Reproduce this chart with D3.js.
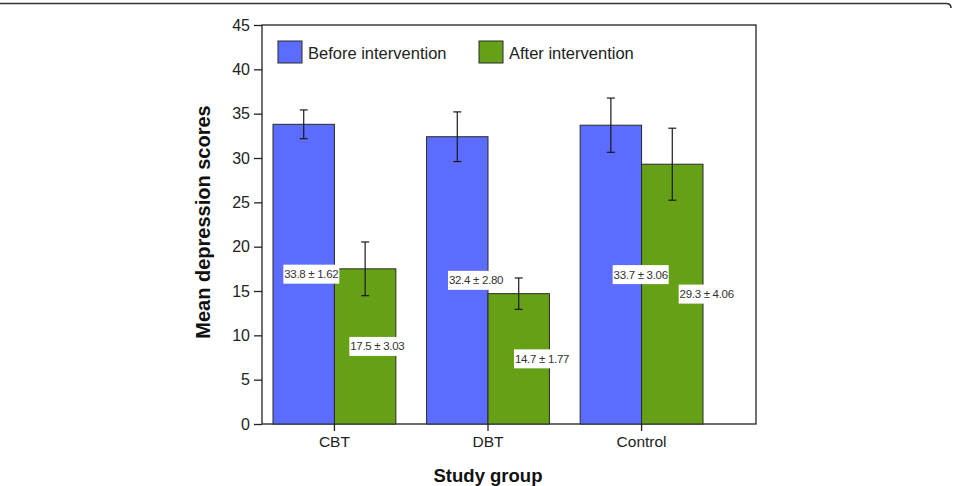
<!DOCTYPE html>
<html>
<head>
<meta charset="utf-8">
<script src="https://cdn.jsdelivr.net/npm/d3@7"></script>
<style>
  body { margin: 0; background: #fff; }
  svg text { font-family: "Liberation Sans", Arial, sans-serif; }
</style>
</head>
<body>
<div id="chart"></div>
<script>
var groups = ["CBT", "DBT", "Control"];
var series = ["Before intervention", "After intervention"];
var before = [33.8, 32.4, 33.7];
var beforeSd = [1.62, 2.80, 3.06];
var after = [17.5, 14.7, 29.3];
var afterSd = [3.03, 1.77, 4.06];
var yTicks = [0, 5, 10, 15, 20, 25, 30, 35, 40, 45];
var colors = ["#5c6cff", "#66a017"];

var svg = d3.select("#chart").append("svg")
    .attr("width", 953)
    .attr("height", 486);

// frame line at the top of the image
svg.append("path")
    .attr("d", "M0,3.5 L946,3.5 Q951,3.5 951,8")
    .attr("fill", "none")
    .attr("stroke", "#333")
    .attr("stroke-width", 1.6);

var plotL = 262, plotR = 756, plotT = 25, plotB = 424;

var y = d3.scaleLinear().domain([0, 45]).range([plotB, plotT]);

// bars sit in their own band range, the value boxes use the full plot width
var x = d3.scaleBand().domain(groups).range([273, 703]).paddingInner(0.2);
var xs = d3.scaleBand().domain([0, 1]).range([0, x.bandwidth()]);
var xLab = d3.scaleBand().domain(groups).range([plotL, plotR]);

var rows = [];
groups.forEach(function (g, i) {
    rows.push({ g: g, s: 0, v: before[i], sd: beforeSd[i] });
    rows.push({ g: g, s: 1, v: after[i], sd: afterSd[i] });
});

// plot frame
svg.append("rect")
    .attr("x", plotL).attr("y", plotT)
    .attr("width", plotR - plotL).attr("height", plotB - plotT)
    .attr("fill", "none").attr("stroke", "#222").attr("stroke-width", 1.3);

// bars
svg.selectAll(".bar").data(rows).enter().append("rect")
    .attr("class", "bar")
    .attr("x", d => x(d.g) + xs(d.s))
    .attr("y", d => y(d.v))
    .attr("width", xs.bandwidth())
    .attr("height", d => y(0) - y(d.v))
    .attr("fill", d => colors[d.s])
    .attr("stroke", "#2a2a2a")
    .attr("stroke-width", 1);

// error bars
var eb = svg.selectAll(".err").data(rows).enter().append("g")
    .attr("class", "err")
    .attr("stroke", "#1a1a1a").attr("stroke-width", 1.2);
eb.append("line")
    .attr("x1", d => x(d.g) + xs(d.s) + xs.bandwidth() / 2)
    .attr("x2", d => x(d.g) + xs(d.s) + xs.bandwidth() / 2)
    .attr("y1", d => y(d.v + d.sd))
    .attr("y2", d => y(d.v - d.sd));
[1, -1].forEach(function (sgn) {
    eb.append("line")
        .attr("x1", d => x(d.g) + xs(d.s) + xs.bandwidth() / 2 - 4)
        .attr("x2", d => x(d.g) + xs(d.s) + xs.bandwidth() / 2 + 4)
        .attr("y1", d => y(d.v + sgn * d.sd))
        .attr("y2", d => y(d.v + sgn * d.sd));
});

// value boxes
var lab = svg.selectAll(".lab").data(rows).enter().append("g")
    .attr("class", "lab")
    .attr("transform", d => "translate(" +
        (xLab(d.g) + xLab.bandwidth() / 2 + (d.s === 0 ? -33 : 33)) + "," + y(d.v / 2) + ")");
lab.append("rect")
    .attr("x", -28).attr("y", -9.5)
    .attr("width", 56).attr("height", 19)
    .attr("fill", "#fff");
lab.append("text")
    .attr("text-anchor", "middle")
    .attr("dy", "0.35em")
    .attr("font-size", 11.5)
    .attr("fill", "#333")
    .attr("letter-spacing", -0.3)
    .text(d => d.v.toFixed(1) + " ± " + d.sd.toFixed(2));

// y axis
var yAxis = svg.append("g")
    .attr("transform", "translate(" + plotL + ",0)")
    .call(d3.axisLeft(y).tickValues(yTicks).tickSize(8).tickPadding(4));
yAxis.select(".domain").remove();
yAxis.selectAll("line").attr("stroke", "#222").attr("stroke-width", 1.3);
yAxis.selectAll("text").attr("font-size", 16).attr("fill", "#222")
    .attr("font-family", "Liberation Sans, Arial, sans-serif");

// x axis
var xAxis = svg.append("g")
    .attr("transform", "translate(0," + plotB + ")")
    .call(d3.axisBottom(x).tickSize(7).tickPadding(5));
xAxis.select(".domain").remove();
xAxis.selectAll("line").attr("stroke", "#222").attr("stroke-width", 1.3);
xAxis.selectAll("text").attr("font-size", 15.5).attr("fill", "#222")
    .attr("font-family", "Liberation Sans, Arial, sans-serif");

// axis titles
svg.append("text")
    .attr("x", 488).attr("y", 482)
    .attr("text-anchor", "middle")
    .attr("font-size", 18.5).attr("font-weight", "bold").attr("fill", "#111")
    .text("Study group");
svg.append("text")
    .attr("transform", "translate(210,222) rotate(-90)")
    .attr("text-anchor", "middle")
    .attr("font-size", 20).attr("font-weight", "bold").attr("fill", "#111")
    .text("Mean depression scores");

// legend
var legX = [278, 479];
series.forEach(function (s, i) {
    svg.append("rect")
        .attr("x", legX[i]).attr("y", 41)
        .attr("width", 24).attr("height", 22)
        .attr("fill", colors[i]).attr("stroke", "#2a2a2a");
    svg.append("text")
        .attr("x", legX[i] + 30).attr("y", 58.5)
        .attr("font-size", 16.5).attr("fill", "#222")
        .text(s);
});
</script>
</body>
</html>
